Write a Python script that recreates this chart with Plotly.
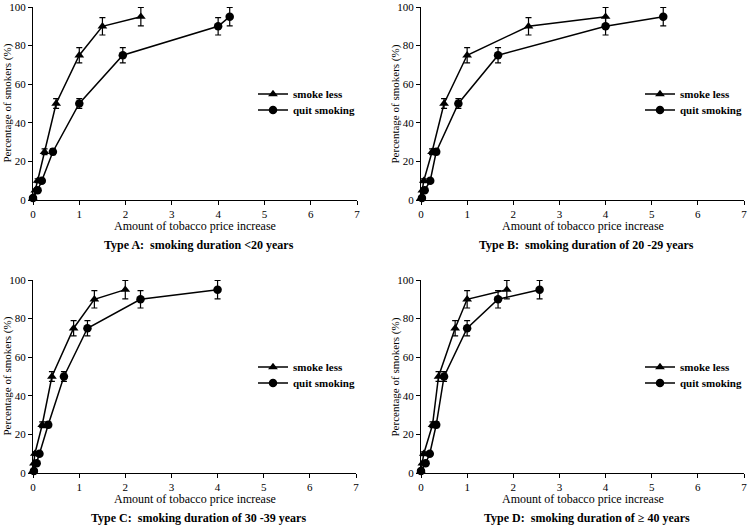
import plotly.graph_objects as go

# ---------------- data ----------------
pct_levels = [1, 5, 10, 25, 50, 75, 90, 95]
pct_err = [0.3, 0.6, 1.0, 1.5, 2.5, 4.0, 4.5, 4.8]

a_less_x = [0.0, 0.05, 0.1, 0.25, 0.5, 1.0, 1.5, 2.33]
a_quit_x = [0.0, 0.1, 0.19, 0.43, 1.0, 1.94, 4.0, 4.25]

b_less_x = [0.0, 0.03, 0.06, 0.24, 0.5, 1.0, 2.33, 4.0]
b_quit_x = [0.02, 0.08, 0.2, 0.33, 0.81, 1.67, 4.0, 5.25]

c_less_x = [0.0, 0.02, 0.04, 0.2, 0.41, 0.88, 1.33, 2.0]
c_quit_x = [0.02, 0.08, 0.14, 0.33, 0.67, 1.18, 2.33, 4.0]

d_less_x = [0.0, 0.03, 0.06, 0.25, 0.38, 0.74, 1.0, 1.86]
d_quit_x = [0.0, 0.1, 0.19, 0.33, 0.5, 1.0, 1.67, 2.57]

panel_titles = [
    "Type A:  smoking duration <20 years",
    "Type B:  smoking duration of 20 -29 years",
    "Type C:  smoking duration of 30 -39 years",
    "Type D:  smoking duration of \u2265 40 years",
]
series_names = ["smoke less", "quit smoking"]
x_ticks = [0, 1, 2, 3, 4, 5, 6, 7]
y_ticks = [0, 20, 40, 60, 80, 100]

# ---------------- layout helpers ----------------
W, H = 750, 529
FONT = "Liberation Serif"

def px(x):
    return x / W

def py(y):
    return 1 - y / H

# pixel boxes: (left, right, top, bottom)
boxes = [
    (33, 357, 7, 200),
    (421, 744, 7, 200),
    (33, 356, 280, 473),
    (421, 744, 280, 473),
]
# legend left edge and the centre rows of the two entries
legend_pos = [(253, 94, 110), (640, 94, 110), (253, 367, 383), (640, 367, 383)]

data_sets = [
    (a_less_x, a_quit_x),
    (b_less_x, b_quit_x),
    (c_less_x, c_quit_x),
    (d_less_x, d_quit_x),
]

fig = go.Figure()
layout = dict(
    width=W, height=H,
    margin=dict(l=0, r=0, t=0, b=0, autoexpand=False),
    paper_bgcolor="white", plot_bgcolor="white",
    showlegend=True,
    font=dict(family=FONT, color="black"),
)
annotations = []
leg_idx = 0

for i, ((lx, qx), box, lp, title) in enumerate(zip(data_sets, boxes, legend_pos, panel_titles)):
    n = i + 1
    xa = "x" if n == 1 else f"x{n}"
    ya = "y" if n == 1 else f"y{n}"
    for k, (xs, sym, name) in enumerate([(lx, "triangle-up", series_names[0]),
                                          (qx, "circle", series_names[1])]):
        leg_idx += 1
        lg = "legend" if leg_idx == 1 else f"legend{leg_idx}"
        fig.add_trace(go.Scatter(
            x=xs, y=pct_levels, name=name, mode="lines+markers",
            line=dict(color="black", width=1.5),
            marker=dict(symbol=sym, size=8.5, color="black"),
            error_y=dict(type="data", array=pct_err, visible=True, color="black",
                         thickness=1.2, width=3),
            xaxis=xa, yaxis=ya, legend=lg, cliponaxis=False,
        ))
        layout[lg] = dict(
            x=px(lp[0]), y=py(lp[1 + k]), xanchor="left", yanchor="middle",
            bgcolor="rgba(0,0,0,0)", borderwidth=0,
            font=dict(family=FONT, size=11, color="black", weight="bold"),
            tracegroupgap=0, itemwidth=30,
        )
    left, right, top, bottom = box
    axis_common = dict(showline=True, linecolor="black", linewidth=1.2,
                       ticks="outside", ticklen=4, tickwidth=1.2, tickcolor="black",
                       showgrid=False, zeroline=False, automargin=False,
                       tickfont=dict(family=FONT, size=11, color="black"))
    layout["xaxis" if n == 1 else f"xaxis{n}"] = dict(
        domain=[px(left), px(right)], range=[0, 7], tickvals=x_ticks,
        anchor=ya, **axis_common)
    layout["yaxis" if n == 1 else f"yaxis{n}"] = dict(
        domain=[py(bottom), py(top)], range=[0, 100], tickvals=y_ticks,
        anchor=xa, **axis_common)
    cx = (left + right) / 2
    annotations.append(dict(
        text="Amount of tobacco price increase", x=px(cx), y=py(bottom + 26),
        xref="paper", yref="paper", showarrow=False, xanchor="center", yanchor="middle",
        font=dict(family=FONT, size=12, color="black")))
    annotations.append(dict(
        text=f"<b>{title}</b>", x=px(cx + 4), y=py(bottom + 45),
        xref="paper", yref="paper", showarrow=False, xanchor="center", yanchor="middle",
        font=dict(family=FONT, size=12, color="black")))
    annotations.append(dict(
        text="Percentage of smokers (%)", x=px(left - 26), y=py((top + bottom) / 2),
        xref="paper", yref="paper", showarrow=False, xanchor="center", yanchor="middle",
        textangle=-90, font=dict(family=FONT, size=11, color="black")))

layout["annotations"] = annotations
fig.update_layout(**layout)
fig.write_html("out.html",
               config={"displayModeBar": False},
               post_script="document.body.style.margin='0';document.body.style.overflow='hidden';")
